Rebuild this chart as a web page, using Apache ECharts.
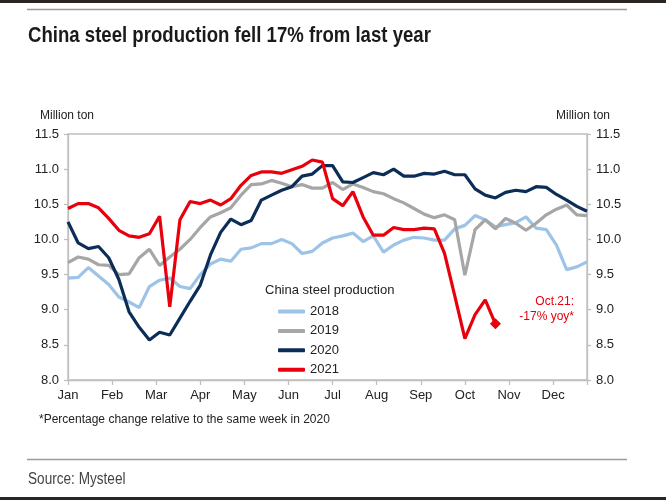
<!DOCTYPE html>
<html>
<head>
<meta charset="utf-8">
<script src="https://cdn.jsdelivr.net/npm/echarts@6/dist/echarts.min.js"></script>
<style>
html,body{margin:0;padding:0;background:#fff;}
#chart{width:666px;height:500px;}
</style>
</head>
<body>
<div id="chart"></div>
<script>
// ---- data (weekly, week 1..52) ----
const months = ['Jan','Feb','Mar','Apr','May','Jun','Jul','Aug','Sep','Oct','Nov','Dec'];
const seriesNames = ['2018','2019','2020','2021'];
const y2018 = [9.45,9.46,9.60,9.48,9.36,9.18,9.11,9.03,9.33,9.42,9.45,9.33,9.30,9.50,9.65,9.72,9.69,9.86,9.88,9.94,9.94,10.00,9.94,9.80,9.83,9.95,10.02,10.05,10.09,9.97,10.05,9.82,9.92,9.99,10.03,10.02,9.99,9.99,10.15,10.20,10.34,10.28,10.18,10.21,10.24,10.32,10.16,10.14,9.92,9.57,9.61,9.68];
const y2019 = [9.67,9.75,9.72,9.64,9.63,9.50,9.51,9.74,9.86,9.63,9.75,9.86,10.00,10.17,10.32,10.38,10.45,10.63,10.78,10.79,10.84,10.80,10.75,10.78,10.73,10.73,10.81,10.71,10.79,10.74,10.68,10.65,10.58,10.52,10.44,10.36,10.31,10.35,10.28,9.49,10.14,10.28,10.15,10.30,10.23,10.13,10.23,10.35,10.43,10.49,10.35,10.34];
const y2020 = [10.25,9.95,9.87,9.90,9.74,9.43,8.97,8.75,8.57,8.68,8.64,8.88,9.12,9.35,9.78,10.10,10.29,10.21,10.27,10.56,10.63,10.70,10.75,10.90,10.93,11.05,11.05,10.82,10.81,10.88,10.95,10.92,11.00,10.90,10.90,10.94,10.93,10.97,10.92,10.92,10.72,10.63,10.59,10.67,10.70,10.68,10.75,10.74,10.64,10.56,10.47,10.40];
const y2021 = [10.44,10.51,10.51,10.45,10.30,10.13,10.05,10.03,10.08,10.33,9.04,10.28,10.54,10.51,10.56,10.49,10.58,10.77,10.91,10.96,10.96,10.94,10.99,11.04,11.13,11.10,10.58,10.48,10.68,10.32,10.06,10.06,10.17,10.14,10.14,10.16,10.15,9.80,9.20,8.59,8.93,9.14,8.80];
const yMin = 8, yMax = 11.5, yStep = 0.5;
const weeksPerYear = 52;

const colors = {'2018':'#9dc3e6','2019':'#a6a6a6','2020':'#0c2d57','2021':'#e8000d'};
const FONT = '"Liberation Sans", Arial, sans-serif';

function toXY(arr){ return arr.map((v,i)=>[i*12/weeksPerYear, v]); }

const d2021 = toXY(y2021);
const last = d2021.length-1;
d2021[last] = {value:d2021[last], symbol:'diamond', symbolSize:11};

function mk(name, data){
  return {
    name:name, type:'line', data:data,
    symbol:'none', showSymbol:true,
    lineStyle:{width:3.2, color:colors[name]},
    itemStyle:{color:colors[name]},
    emphasis:{disabled:true}, silent:true
  };
}

const yAxisBase = {
  type:'value', min:yMin, max:yMax, interval:yStep,
  splitLine:{show:false},
  axisLine:{show:true, lineStyle:{color:'#bfbfbf', width:1.3}},
  axisTick:{show:true, length:4, lineStyle:{color:'#bfbfbf', width:1.3}},
  axisLabel:{color:'#222', fontSize:13, fontFamily:FONT, margin:9, formatter:v=>v.toFixed(1)}
};

const chart = echarts.init(document.getElementById('chart'), null, {renderer:'canvas'});
chart.setOption({
  animation:false,
  backgroundColor:'#fff',
  grid:{left:68, right:79, top:134, bottom:120, show:true, borderColor:'#bfbfbf', borderWidth:1.3},
  xAxis:{
    type:'value', min:0, max:(weeksPerYear-1)*12/weeksPerYear, interval:1,
    splitLine:{show:false},
    axisLine:{show:true, lineStyle:{color:'#bfbfbf', width:1.3}},
    axisTick:{show:true, length:5, lineStyle:{color:'#bfbfbf', width:1.3}},
    axisLabel:{color:'#222', fontSize:13, fontFamily:FONT, margin:9,
      formatter:v=> (Math.abs(v-Math.round(v))<1e-6 && months[Math.round(v)]) ? months[Math.round(v)] : ''}
  },
  yAxis:[
    Object.assign({}, yAxisBase, {position:'left'}),
    Object.assign({}, yAxisBase, {position:'right'})
  ],
  legend:{
    data:seriesNames, orient:'vertical', left:273, top:297,
    icon:'roundRect', itemWidth:27, itemHeight:4, itemGap:0.4,
    textStyle:{fontSize:13, color:'#222', fontFamily:FONT, lineHeight:19},
    selectedMode:false
  },
  series:[
    mk('2018', toXY(y2018)),
    mk('2019', toXY(y2019)),
    mk('2020', toXY(y2020)),
    mk('2021', d2021)
  ],
  graphic:[
    {type:'rect', shape:{x:0,y:0,width:666,height:3}, style:{fill:'#2b2522'}, silent:true},
    {type:'rect', shape:{x:0,y:497,width:666,height:3}, style:{fill:'#2b2522'}, silent:true},
    {type:'line', shape:{x1:27,y1:9.5,x2:627,y2:9.5}, style:{stroke:'#9a9a9a', lineWidth:1.5}, silent:true},
    {type:'line', shape:{x1:27,y1:459.5,x2:627,y2:459.5}, style:{stroke:'#9a9a9a', lineWidth:1.5}, silent:true},
    {type:'text', x:28, y:36, scaleX:0.845, originX:0, originY:0, style:{text:'China steel production fell 17% from last year', font:'bold 22px '+FONT, fill:'#1a1a1a', verticalAlign:'middle'}, silent:true},
    {type:'text', x:40, y:116, style:{text:'Million ton', font:'12px '+FONT, fill:'#222', verticalAlign:'middle'}, silent:true},
    {type:'text', x:556, y:116, style:{text:'Million ton', font:'12px '+FONT, fill:'#222', verticalAlign:'middle'}, silent:true},
    {type:'text', x:265, y:290, style:{text:'China steel production', font:'13px '+FONT, fill:'#222', verticalAlign:'middle'}, silent:true},
    {type:'text', x:574, y:294, style:{text:'Oct.21:\n-17% yoy*', font:'12px '+FONT, fill:'#e8000d', align:'right', verticalAlign:'top', lineHeight:15}, silent:true},
    {type:'text', x:39, y:420, style:{text:'*Percentage change relative to the same week in 2020', font:'12px '+FONT, fill:'#222', verticalAlign:'middle'}, silent:true},
    {type:'text', x:28, y:480, scaleX:0.85, originX:0, originY:0, style:{text:'Source: Mysteel', font:'16px '+FONT, fill:'#444', verticalAlign:'middle'}, silent:true}
  ]
});
</script>
</body>
</html>
